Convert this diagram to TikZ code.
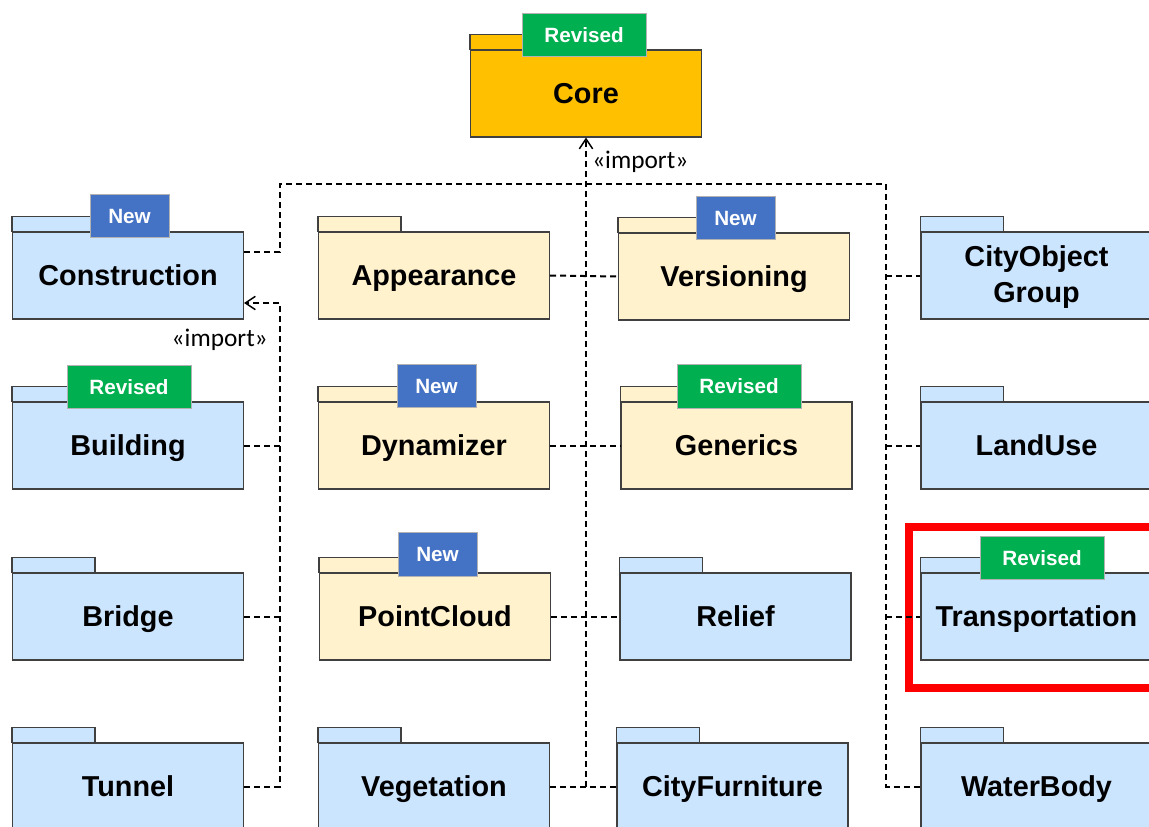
\documentclass[tikz,border=0pt]{standalone}
\usepackage{fontspec}
\setmainfont{Liberation Sans}
\newfontfamily\importfont{Carlito}
\usetikzlibrary{arrows.meta,calc}

\definecolor{pkgblue}{HTML}{CCE5FF}
\definecolor{pkgyellow}{HTML}{FFF2CC}
\definecolor{coreorange}{HTML}{FFC000}
\definecolor{revgreen}{HTML}{00B050}
\definecolor{newblue}{HTML}{4472C4}
\definecolor{edgegray}{HTML}{404040}

\tikzset{
  pkgfont/.style={font=\fontsize{21.6}{26.5}\selectfont\bfseries},
  pkgbody/.style={draw=edgegray, line width=0.8pt, minimum width=173.25pt,
    minimum height=65.25pt, inner sep=0pt, pkgfont,
    text height=15.5pt, text depth=0pt},
  pkgtab/.style={draw=edgegray, line width=0.8pt},
  twoline/.style={inner sep=0pt, align=center, pkgfont},
  badge/.style={draw=gray!60, line width=0.5pt, text=white, minimum height=32.5pt,
    inner sep=0pt, font=\fontsize{15.5}{18}\selectfont\bfseries,
    text height=11.1pt, text depth=0pt},
  newbadge/.style={badge, fill=newblue, minimum width=59.25pt},
  revbadge/.style={badge, fill=revgreen, minimum width=93pt},
  dep/.style={draw=black, line width=1.5pt, dash pattern=on 4.5pt off 3pt},
  importarrow/.style={dep, -{Straight Barb[length=7.5pt,width=10pt,line width=1.1pt]}},
  stereo/.style={inner sep=0pt, font=\importfont\fontsize{19}{22}\selectfont},
  highlight/.style={draw=red, line width=6pt},
}

% UML package: body node with its tab on the upper left
\newcommand\umlpkg[5]{%
  \node[pkgbody, fill=#4] (#1) at (#2,#3) {#5};
  \draw[pkgtab, fill=#4] (#1.north west) rectangle ++(83,-15);
}

\begin{document}
\begin{tikzpicture}[x=0.75pt, y=-0.75pt]
  \useasboundingbox (0,0) rectangle (1149,826);
  \clip (0,0) rectangle (1149,826);

  % core package
  \umlpkg{core}{586}{93.5}{coreorange}{Core}
  \node[revbadge] (core-b) at ($(core.north)+(-2,-14.5)$) {Revised};

  % first column
  \umlpkg{construction}{128}{275.5}{pkgblue}{Construction}
  \umlpkg{building}{128}{445.5}{pkgblue}{Building}
  \umlpkg{bridge}{128}{616.5}{pkgblue}{Bridge}
  \umlpkg{tunnel}{128}{786.5}{pkgblue}{Tunnel}
  \node[newbadge] (construction-b) at ($(construction.north)+(1.5,-15.5)$) {New};
  \node[revbadge] (building-b) at ($(building.north)+(1,-14.5)$) {Revised};

  % second column
  \umlpkg{appearance}{434}{275.5}{pkgyellow}{Appearance}
  \umlpkg{dynamizer}{434}{445.5}{pkgyellow}{Dynamizer}
  \umlpkg{pointcloud}{435}{616.5}{pkgyellow}{PointCloud}
  \umlpkg{vegetation}{434}{786.5}{pkgblue}{Vegetation}
  \node[newbadge] (dynamizer-b) at ($(dynamizer.north)+(2.5,-15.5)$) {New};
  \node[newbadge] (pointcloud-b) at ($(pointcloud.north)+(2.5,-18)$) {New};

  % third column
  \umlpkg{versioning}{734}{276.5}{pkgyellow}{Versioning}
  \umlpkg{generics}{736.5}{445.5}{pkgyellow}{Generics}
  \umlpkg{relief}{735.5}{616.5}{pkgblue}{Relief}
  \umlpkg{cityfurniture}{732.5}{786.5}{pkgblue}{CityFurniture}
  \node[newbadge] (versioning-b) at ($(versioning.north)+(1.5,-14.5)$) {New};
  \node[revbadge] (generics-b) at ($(generics.north)+(2.5,-15)$) {Revised};

  % fourth column
  \umlpkg{cityobjectgroup}{1036.5}{275.5}{pkgblue}{}
  \node[twoline] (cityobjectgroup-label) at ($(cityobjectgroup.center)+(0,1.5)$) {CityObject\\Group};
  \umlpkg{landuse}{1036.5}{445.5}{pkgblue}{LandUse}
  \umlpkg{transportation}{1036.5}{616.5}{pkgblue}{Transportation}
  \umlpkg{waterbody}{1036.5}{786.5}{pkgblue}{WaterBody}
  \node[revbadge] (transportation-b) at ($(transportation.north)+(5.5,-14.5)$) {Revised};

  % highlight frame
  \draw[highlight] (909,527) rectangle (1170,688);

  % bus junctions
  \coordinate (busL) at (280,184);
  \coordinate (busR) at (886,184);
  \coordinate (cUp) at ($(construction.east)+(0,-23.5)$);
  \coordinate (cDown) at ($(construction.east)+(0,27.5)$);
  \coordinate (midFoot) at (core.south |- vegetation.east);

  % imports of Core
  \draw[importarrow] (midFoot) -- (core.south);
  \draw[dep] (cUp) -- (cUp -| busL) -- (busL) -- (busR)
    -- (busR |- waterbody.west) -- (waterbody.west);
  \draw[dep] (busR |- cityobjectgroup.west) -- (cityobjectgroup.west);
  \draw[dep] (busR |- landuse.west) -- (landuse.west);
  \draw[dep] (busR |- transportation.west) -- (transportation.west);
  \draw[dep] (appearance.east) -- (versioning.west);
  \draw[dep] (dynamizer.east) -- (generics.west);
  \draw[dep] (pointcloud.east) -- (relief.west);
  \draw[dep] (vegetation.east) -- (cityfurniture.west);

  % imports of Construction
  \draw[importarrow] (tunnel.east) -- (tunnel.east -| busL) -- (cDown -| busL) -- (cDown);
  \draw[dep] (building.east) -- (building.east -| busL);
  \draw[dep] (bridge.east) -- (bridge.east -| busL);

  % stereotypes
  \node[stereo, anchor=west] (imp-core) at (592,162) {«import»};
  \node[stereo, anchor=east] (imp-con) at (268,340) {«import»};
\end{tikzpicture}
\end{document}
